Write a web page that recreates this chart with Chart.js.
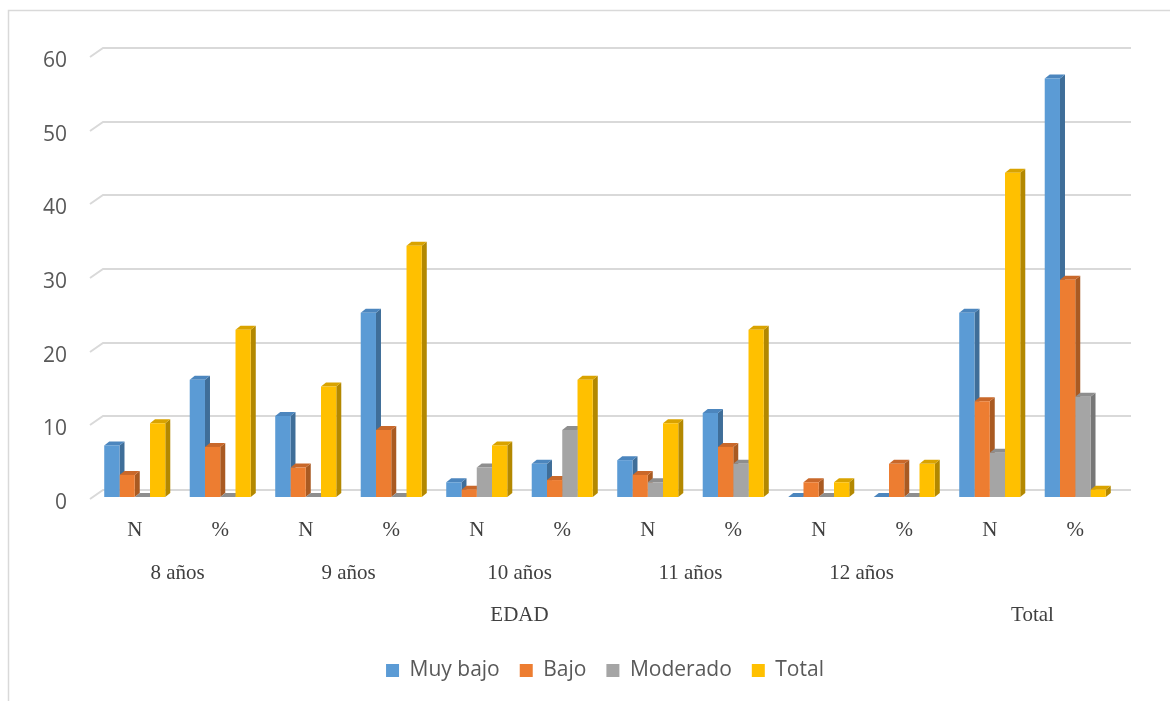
<!DOCTYPE html>
<html><head><meta charset="utf-8">
<script src="https://cdn.jsdelivr.net/npm/chart.js@4/dist/chart.umd.min.js"></script>
<style>html,body{margin:0;padding:0;background:#fff}#wrap{position:relative;width:1170px;height:701px}</style>
</head><body><div id="wrap"><canvas id="c" width="1170" height="701"></canvas></div>
<script>
// ---- data ----
const measureLabels = ['N','%','N','%','N','%','N','%','N','%','N','%'];
const groupLabels = ['8 años','9 años','10 años','11 años','12 años'];
const sectionLabels = ['EDAD','Total'];
const seriesNames = ['Muy bajo','Bajo','Moderado','Total'];
const muyBajo  = [7, 15.9, 11, 25,   2, 4.5,  5, 11.4, 0, 0,   25, 56.8];
const bajo     = [3, 6.8,  4,  9.1,  1, 2.3,  3, 6.8,  2, 4.5, 13, 29.5];
const moderado = [0, 0,    0,  0,    4, 9.1,  2, 4.5,  0, 0,   6,  13.6];
const total    = [10, 22.7, 15, 34.1, 7, 15.9, 10, 22.7, 2, 4.5, 44, 1];
const yMin = 0, yMax = 60, yStep = 10;

// ---- styles ----
const frontColors = ['#5B9BD5','#ED7D31','#A5A5A5','#FFC000'];
const sideColors  = ['#3F6E99','#A95A22','#777777','#B38800'];
const topColors   = ['#4C86BE','#C9682A','#8E8E8E','#D9A300'];
const seriesValues = [muyBajo, bajo, moderado, total];
const D = {dx: 5, dy: 4};      // bar depth
const F = {dx: 13, dy: 7};     // wall depth

const excel3d = {
  id: 'excel3d',
  beforeDraw(chart) {
    const ctx = chart.ctx;
    ctx.save();
    ctx.strokeStyle = '#D9D9D9'; ctx.lineWidth = 1.5;
    ctx.beginPath(); ctx.moveTo(8.5, chart.height); ctx.lineTo(8.5, 10.5); ctx.lineTo(chart.width, 10.5); ctx.stroke();
    ctx.restore();
  },
  beforeDatasetsDraw(chart) {
    const ctx = chart.ctx, ys = chart.scales.y, a = chart.chartArea;
    ctx.save();
    ctx.strokeStyle = '#D9D9D9'; ctx.lineWidth = 2;
    ys.ticks.forEach(t => {
      const py = Math.round(ys.getPixelForValue(t.value)) + 2;
      ctx.beginPath();
      ctx.moveTo(a.left - 2, py);
      ctx.lineTo(a.left - 2 + F.dx, py - F.dy - 2);
      ctx.lineTo(a.right + F.dx, py - F.dy - 2);
      ctx.stroke();
    });
    chart.data.datasets.forEach((ds, i) => {
      const meta = chart.getDatasetMeta(i);
      meta.data.forEach(bar => {
        const p = bar.getProps(['x','y','base','width'], true);
        const l = p.x - p.width/2, r = p.x + p.width/2, top = p.y, base = p.base;
        ctx.fillStyle = sideColors[i];
        ctx.beginPath();
        ctx.moveTo(r, base); ctx.lineTo(r, top); ctx.lineTo(r + D.dx, top - D.dy); ctx.lineTo(r + D.dx, base - D.dy);
        ctx.closePath(); ctx.fill();
        ctx.fillStyle = topColors[i];
        ctx.beginPath();
        ctx.moveTo(l, top); ctx.lineTo(l + D.dx, top - D.dy); ctx.lineTo(r + D.dx, top - D.dy); ctx.lineTo(r, top);
        ctx.closePath(); ctx.fill();
      });
    });
    ctx.restore();
  },
  afterDraw(chart) {
    const ctx = chart.ctx, xs = chart.scales.x, b = chart.chartArea.bottom;
    ctx.save();
    ctx.font = '21px "Liberation Serif", "Times New Roman", serif';
    ctx.fillStyle = '#404040'; ctx.textAlign = 'center'; ctx.textBaseline = 'middle';
    measureLabels.forEach((t, i) => ctx.fillText(t, xs.getPixelForValue(i), b + 33));
    groupLabels.forEach((t, g) => ctx.fillText(t, (xs.getPixelForValue(2*g) + xs.getPixelForValue(2*g + 1)) / 2, b + 76));
    const nEdad = groupLabels.length * 2;
    ctx.fillText(sectionLabels[0], (xs.getPixelForValue(0) + xs.getPixelForValue(nEdad - 1)) / 2, b + 118);
    ctx.fillText(sectionLabels[1], (xs.getPixelForValue(nEdad) + xs.getPixelForValue(measureLabels.length - 1)) / 2, b + 118);
    ctx.restore();
  }
};

new Chart(document.getElementById('c'), {
  type: 'bar',
  data: {
    labels: measureLabels,
    datasets: seriesNames.map((n, i) => ({
      label: n, data: seriesValues[i],
      backgroundColor: frontColors[i], borderWidth: 0,
      categoryPercentage: 0.714, barPercentage: 1.0
    }))
  },
  options: {
    responsive: false, animation: false,
    layout: {padding: {top: 55, right: 52, bottom: 10, left: 0}},
    plugins: {
      tooltip: {enabled: false},
      legend: {
        position: 'bottom', fullSize: false,
        labels: {boxWidth: 13, boxHeight: 13, padding: 20, color: '#595959',
                 font: {family: '"Open Sans", sans-serif', size: 21}}
      }
    },
    scales: {
      x: {
        ticks: {display: false}, grid: {display: false, drawTicks: false}, border: {display: false},
        afterFit(s) { s.height = 143; }
      },
      y: {
        min: yMin, max: yMax,
        ticks: {stepSize: yStep, padding: 25, labelOffset: 6, color: '#595959', font: {family: '"Open Sans", sans-serif', size: 21}},
        grid: {display: false, drawTicks: false}, border: {display: false},
        afterFit(s) { s.width = 92; }
      }
    }
  },
  plugins: [excel3d]
});
</script></body></html>
